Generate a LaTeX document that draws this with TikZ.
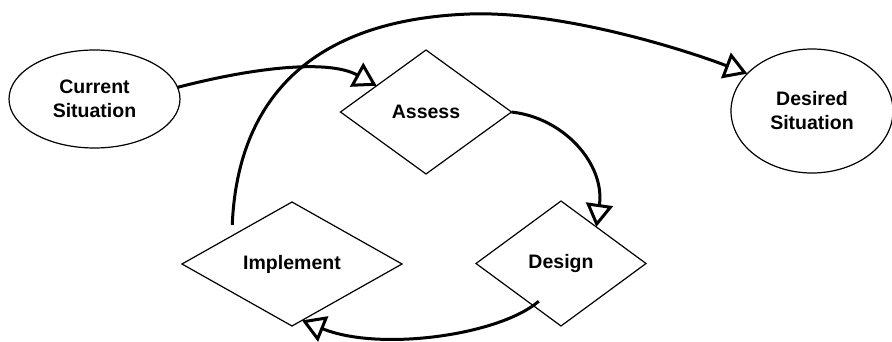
\documentclass[tikz,border=0pt]{standalone}
\usepackage{fontspec}
\setmainfont{Liberation Sans}
\usetikzlibrary{shapes.geometric,arrows.meta}

\tikzset{
  state/.style={draw, ellipse, line width=1.2pt, inner sep=0pt, outer sep=0pt, align=center,
    font=\fontsize{19.5}{24}\selectfont\bfseries},
  stage/.style={draw, diamond, line width=1.2pt, inner sep=0pt, outer sep=0pt, align=center,
    font=\fontsize{19.5}{24}\selectfont\bfseries},
  flow/.style={line width=3pt, -{Triangle[open, length=23pt, width=27pt]}}
}

\begin{document}
\begin{tikzpicture}[x=1pt, y=-1pt]
\useasboundingbox (0, 0) rectangle (892, 342);
% situations
\node [state, minimum width=171pt, minimum height=98pt] (cur) at (94.5, 99) {Current\\Situation};
\node [state, minimum width=162pt, minimum height=124pt] (goal) at (812, 111) {Desired\\Situation};
% cycle
\node [stage, minimum width=171pt, minimum height=124pt] (assess) at (426, 112) {Assess};
\node [stage, minimum width=170pt, minimum height=125pt] (design) at (561, 263.5) {Design};
\node [stage, minimum width=220pt, minimum height=124pt] (impl) at (292, 264) {Implement};
% arrows
\draw [flow] (cur.8) .. controls (260, 66) and (330, 60) .. (assess.152);
\draw [flow] (assess.east) .. controls (565, 118) and (605, 165) .. (design.46);
\draw [flow, shorten <=-7pt] (design.237) .. controls (500, 335) and (380, 352) .. (impl.-80);
\draw [flow, shorten <=11pt] (impl.155) .. controls (237, 110) and (300, 20) .. (470, 14)
  .. controls (560, 11) and (680, 48) .. (goal.150);
\end{tikzpicture}
\end{document}
